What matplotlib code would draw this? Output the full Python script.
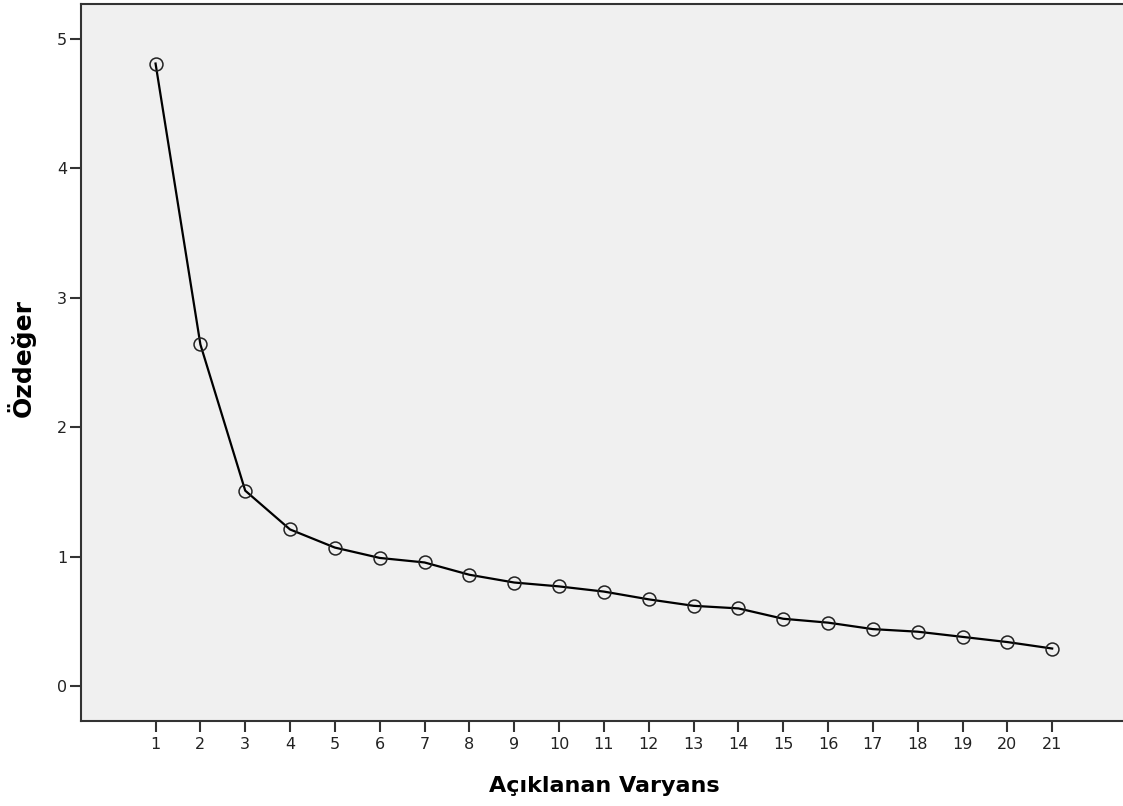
import matplotlib
matplotlib.use("Agg")
import matplotlib.pyplot as plt

components = list(range(1, 22))
eigenvalues = [4.81, 2.64, 1.51, 1.21, 1.07, 0.99, 0.955, 0.86, 0.80, 0.77,
               0.73, 0.67, 0.62, 0.60, 0.52, 0.49, 0.44, 0.42, 0.38, 0.34, 0.29]
y_ticks = [0, 1, 2, 3, 4, 5]
x_label = "Açıklanan Varyans"
y_label = "Özdeğer"

plt.rcParams['font.family'] = ['DejaVu Sans']

fig = plt.figure(figsize=(11.23, 8.06), dpi=100)
ax = fig.add_axes([80.5 / 1123, 85 / 806, 1 - 80.5 / 1123, 717 / 806])
ax.set_facecolor('#F0F0F0')

ax.plot(components, eigenvalues, color='black', linewidth=1.6,
        marker='o', markersize=9.3, markerfacecolor='none',
        markeredgecolor='#222222', markeredgewidth=1.1)

ax.set_xlim(-0.674, 22.58)
ax.set_ylim(-0.27, 5.27)
ax.set_xticks(components)
ax.set_xticklabels([str(c) for c in components])
ax.set_yticks(y_ticks)
ax.set_yticklabels([str(t) for t in y_ticks])

for side in ['left', 'bottom', 'top']:
    ax.spines[side].set_color('#333333')
    ax.spines[side].set_linewidth(1.5)
ax.spines['right'].set_visible(False)

ax.tick_params(axis='both', direction='out', length=8, width=1.5,
               color='#333333', labelsize=11.5, labelcolor='#222222')
ax.tick_params(axis='y', pad=1.5)
ax.tick_params(axis='x', pad=3.5)

ax.set_xlabel(x_label, fontsize=16, fontweight='bold')
ax.set_ylabel(y_label, fontsize=18, fontweight='bold')
ax.xaxis.set_label_coords((604 - 80.5) / (1123 - 80.5), -(786 - 721) / 717)
ax.yaxis.set_label_coords(-(80.5 - 21) / (1123 - 80.5), (721 - 358) / 717)
ax.xaxis.label.set_va('center')
ax.yaxis.label.set_va('center')

fig.savefig("out.png", dpi=100)
